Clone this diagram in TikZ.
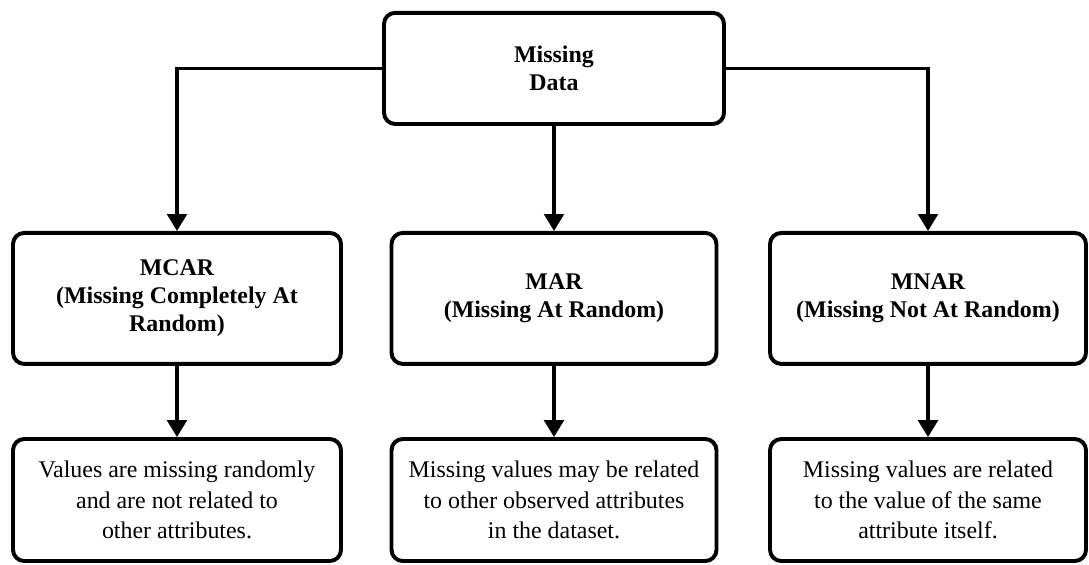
\documentclass[tikz,border=0pt]{standalone}
\usepackage{fontspec}
\setmainfont{Liberation Serif}
\usetikzlibrary{arrows.meta, positioning}

\begin{document}
\begin{tikzpicture}[
    >={Triangle[width=14pt,length=12pt]},
    box/.style={draw, line width=2.8pt, rounded corners=8pt, align=center, inner sep=0pt},
    headbox/.style={box, font=\fontsize{17}{20}\selectfont\bfseries, minimum height=3.275cm},
    descbox/.style={box, font=\fontsize{17}{21.5}\selectfont, minimum height=3.05cm},
    link/.style={->, line width=2.2pt}
]

\useasboundingbox (0, 0) rectangle (27.225, -14.1);

% Root node
\node (data) [box, font=\fontsize{17}{20}\selectfont\bfseries, minimum width=8.5cm, minimum height=2.78cm] at (13.85, -1.71) {Missing\\Data};

% Mechanisms
\node (mcar) [headbox, minimum width=8.2cm] at (4.425, -7.46) {MCAR\\(Missing Completely At\\Random)};
\node (mar) [headbox, minimum width=8.125cm] at (13.85, -7.46) {MAR\\(Missing At Random)};
\node (mnar) [headbox, minimum width=7.9cm] at (23.2, -7.46) {MNAR\\(Missing Not At Random)};

% Descriptions
\node (mcardesc) [descbox, minimum width=8.2cm] at (4.425, -12.5) {Values are missing randomly\\and are not related to\\other attributes.};
\node (mardesc) [descbox, minimum width=8.125cm] at (13.85, -12.5) {Missing values may be related\\to other observed attributes\\in the dataset.};
\node (mnardesc) [descbox, minimum width=7.9cm] at (23.2, -12.5) {Missing values are related\\to the value of the same\\attribute itself.};

% Connectors
\draw[link] (data.west) -| (mcar.north);
\draw[link] (data.south) -- (mar.north);
\draw[link] (data.east) -| (mnar.north);

\draw[link] (mcar) -- (mcardesc);
\draw[link] (mar) -- (mardesc);
\draw[link] (mnar) -- (mnardesc);

\end{tikzpicture}
\end{document}
